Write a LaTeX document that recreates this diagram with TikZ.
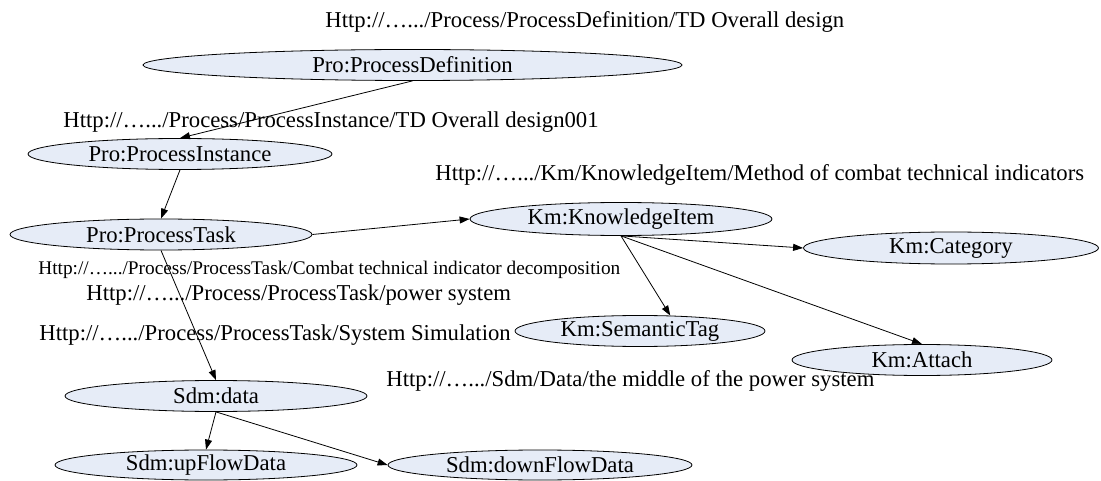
\documentclass[tikz,border=0pt]{standalone}
\usepackage{fontspec}
\setmainfont{Liberation Serif}
\usepackage{xcolor}
\usepackage{tikz}
\usetikzlibrary{shapes.geometric}
\usetikzlibrary{arrows.meta}

\definecolor{clsfill}{HTML}{E6ECF7}

\begin{document}
\begin{tikzpicture}[>={Triangle[length=10pt,width=7pt]}, x=1pt, y=-1pt, line width=0.8pt,
    cls/.style={ellipse, draw, fill=clsfill, inner sep=0pt, minimum height=31pt,
      font=\fontsize{22.7}{26}\selectfont},
    uri/.style={anchor=base west, inner sep=0pt, font=\fontsize{22.7}{26}\selectfont},
    urismall/.style={uri, font=\fontsize{19.3}{22}\selectfont}]
            \useasboundingbox (0,0) rectangle (1101,481);
            \node[cls, minimum width=539pt] (pdef)  at (412.5,65) {Pro:ProcessDefinition};
            \node[cls, minimum width=304pt] (pinst) at (180,154)  {Pro:ProcessInstance};
            \node[cls, minimum width=302pt] (ptask) at (161,234.5) {Pro:ProcessTask};
            \node[cls, minimum width=302pt, minimum height=33pt] (kitem) at (621,219) {Km:KnowledgeItem};
            \node[cls, minimum width=295pt, minimum height=32pt] (kcat)  at (951,248) {Km:Category};
            \node[cls, minimum width=250pt] (ktag)  at (640,331) {Km:SemanticTag};
            \node[cls, minimum width=260pt] (katt)  at (922,360) {Km:Attach};
            \node[cls, minimum width=302pt] (sdata) at (216,396) {Sdm:data};
            \node[cls, minimum width=302pt, minimum height=30pt] (sdmup)   at (206,465) {Sdm:upFlowData};
            \node[cls, minimum width=304pt, minimum height=30pt] (sdmdown) at (540,465) {Sdm:downFlowData};
            \draw[->] (pdef.south)  -- (pinst.north);
            \draw[->] (pinst.south) -- (ptask.north);
            \draw[->] (ptask.east)  -- (kitem.west);
            \draw[->] (ptask.south) -- (sdata.north);
            \draw[->] (kitem.south) -- (kcat.west);
            \draw[->] (kitem.south) -- (ktag.27);
            \draw[->] (kitem.south) -- (katt.north);
            \draw[->] (sdata.south) -- (sdmup.north);
            \draw[->] (sdata.south) -- (sdmdown.west);
            \node[uri] (uridef)  at (325,28)  {Http://….../Process/ProcessDefinition/TD Overall design};
            \node[uri] (uriinst) at (63,128)  {Http://….../Process/ProcessInstance/TD Overall design001};
            \node[uri] (uriitem) at (435,181) {Http://….../Km/KnowledgeItem/Method of combat technical indicators};
            \node[urismall] (uricomb) at (38,275) {Http://….../Process/ProcessTask/Combat technical indicator decomposition};
            \node[uri] (uripow)  at (86,301)  {Http://….../Process/ProcessTask/power system};
            \node[uri] (urisim)  at (39,341)  {Http://….../Process/ProcessTask/System Simulation};
            \node[uri] (urisdm)  at (386,386) {Http://….../Sdm/Data/the middle of the power system};
\end{tikzpicture}
\end{document}
